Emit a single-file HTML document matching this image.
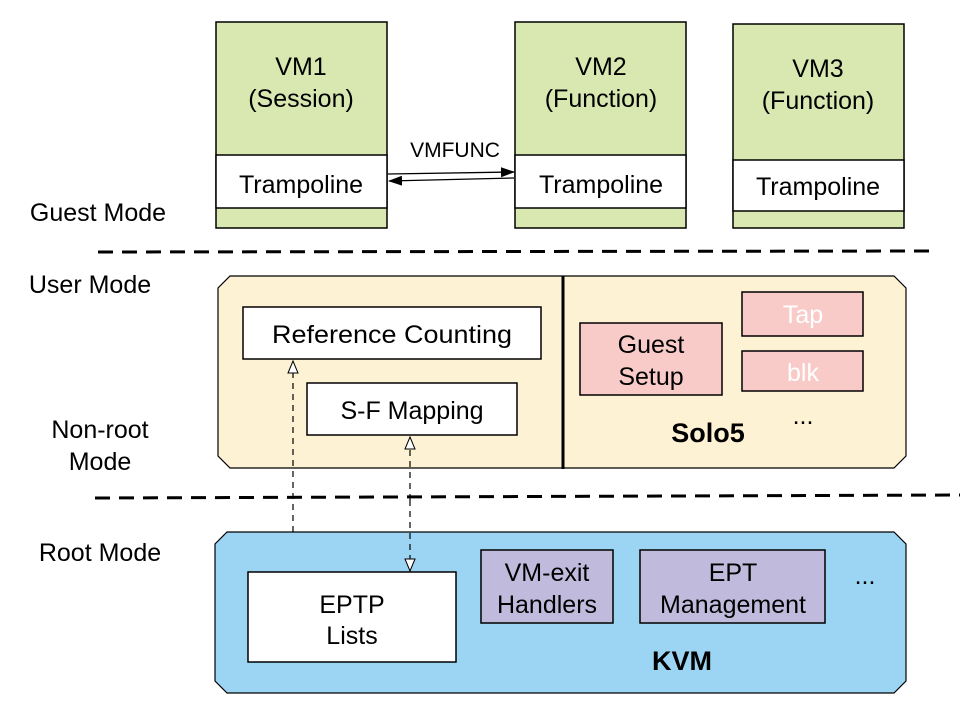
<!DOCTYPE html>
<html><head><meta charset="utf-8"><style>
body{margin:0;background:#fff}
svg text{font-family:"Liberation Sans",Arial,sans-serif;}
</style></head><body>
<svg width="974" height="712" viewBox="0 0 974 712" xmlns="http://www.w3.org/2000/svg">
<defs>
<marker id="a" markerWidth="14" markerHeight="12" refX="13" refY="6" orient="auto" markerUnits="userSpaceOnUse"><path d="M0,1 L14,6 L0,11 z" fill="#000"/></marker>
<marker id="o" markerWidth="14" markerHeight="12" refX="13" refY="6" orient="auto" markerUnits="userSpaceOnUse"><path d="M1,1 L13,6 L1,11 z" fill="#fff" stroke="#000" stroke-width="1"/></marker>
</defs>
<g stroke="#000" stroke-width="1.5">
<rect x="216" y="22" width="171" height="206" fill="#d9e7b1"/>
<rect x="216" y="155" width="171" height="53" fill="#fff"/>
<rect x="515" y="22" width="171" height="206" fill="#d9e7b1"/>
<rect x="515" y="155" width="171" height="53" fill="#fff"/>
<rect x="733" y="24" width="171" height="204" fill="#d9e7b1"/>
<rect x="733" y="160" width="171" height="51" fill="#fff"/>
</g>
<g font-size="25" text-anchor="middle" fill="#000">
<text x="301" y="75">VM1</text><text x="301" y="107">(Session)</text>
<text x="601" y="75">VM2</text><text x="601" y="107">(Function)</text>
<text x="818" y="77">VM3</text><text x="818" y="109">(Function)</text>
<text x="301" y="193">Trampoline</text>
<text x="601" y="193">Trampoline</text>
<text x="818" y="195">Trampoline</text>
</g>
<line x1="388" y1="174" x2="514" y2="172" stroke="#000" stroke-width="1.3" marker-end="url(#a)"/>
<line x1="514" y1="178" x2="389" y2="181" stroke="#000" stroke-width="1.3" marker-end="url(#a)"/>
<text x="455" y="157" font-size="21" text-anchor="middle">VMFUNC</text>
<g stroke="#000" stroke-width="3" stroke-dasharray="15,9">
<line x1="98" y1="252" x2="932" y2="251"/>
<line x1="95" y1="498" x2="960" y2="495"/>
</g>
<g font-size="25" text-anchor="middle">
<text x="98" y="221">Guest Mode</text>
<text x="90" y="293">User Mode</text>
<text x="100" y="438">Non-root</text><text x="100" y="470">Mode</text>
<text x="100" y="561">Root Mode</text>
</g>
<path d="M230,276 L894,276 L906,288 L906,456 L894,468 L230,468 L218,456 L218,288 Z" fill="#fef2d4" stroke="#000" stroke-width="1.2"/>
<line x1="563" y1="276" x2="563" y2="469" stroke="#000" stroke-width="3"/>
<path d="M227,532 L894,532 L906,544 L906,681 L894,693 L227,693 L215,681 L215,544 Z" fill="#9bd5f3" stroke="#000" stroke-width="1.2"/>
<g stroke="#000" stroke-width="1.5">
<rect x="243" y="307" width="298" height="52" fill="#fff"/>
<rect x="307" y="383" width="210" height="52" fill="#fff"/>
<rect x="580" y="323" width="142" height="72" fill="#f8cbc9"/>
<rect x="742" y="292" width="121" height="44" fill="#f8cbc9"/>
<rect x="742" y="351" width="121" height="40" fill="#f8cbc9"/>
<rect x="248" y="572" width="208" height="90" fill="#fff"/>
<rect x="481" y="550" width="132" height="73" fill="#c0bbdc"/>
<rect x="640" y="550" width="185" height="73" fill="#c0bbdc"/>
</g>
<g font-size="25" text-anchor="middle">
<text x="392" y="343" textLength="240" lengthAdjust="spacingAndGlyphs">Reference Counting</text>
<text x="412" y="419">S-F Mapping</text>
<text x="651" y="353">Guest</text><text x="651" y="385">Setup</text>
<text x="803" y="323" fill="#fff">Tap</text>
<text x="803" y="381" fill="#fff">blk</text>
<text x="708" y="442" font-weight="bold" font-size="27">Solo5</text>
<text x="803" y="424">...</text>
<text x="352" y="613">EPTP</text><text x="352" y="644">Lists</text>
<text x="547" y="581">VM-exit</text><text x="547" y="613">Handlers</text>
<text x="733" y="581">EPT</text><text x="733" y="613">Management</text>
<text x="865" y="584">...</text>
<text x="682" y="670" font-weight="bold" font-size="27">KVM</text>
</g>
<g stroke="#000" stroke-width="1.2" stroke-dasharray="6,5" fill="none">
<line x1="293" y1="532" x2="293" y2="361" marker-end="url(#o)"/>
<line x1="410" y1="500" x2="410" y2="437" marker-end="url(#o)"/>
<line x1="410" y1="500" x2="410" y2="571" marker-end="url(#o)"/>
</g>
</svg>
</body></html>
